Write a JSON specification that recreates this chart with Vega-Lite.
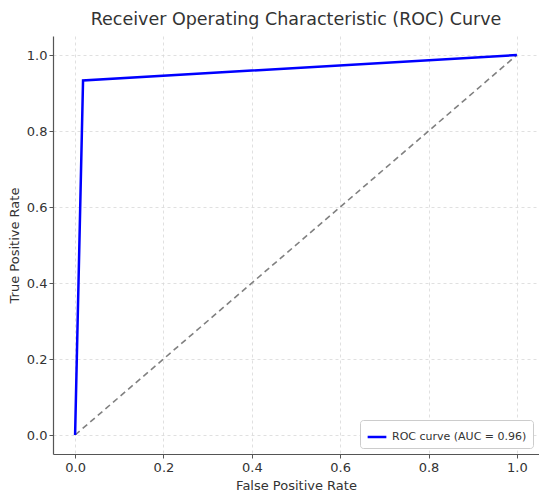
{
  "$schema": "https://vega.github.io/schema/vega-lite/v6.json",
  "autosize": "none",
  "width": 486,
  "height": 418,
  "padding": {"left": 53, "top": 36, "right": 0, "bottom": 39},
  "background": "white",
  "title": {"text": "Receiver Operating Characteristic (ROC) Curve", "font": "DejaVu Sans", "fontSize": 17.5, "fontWeight": "normal", "color": "#333333", "offset": 8},
  "config": {
    "view": {"stroke": null},
    "font": "DejaVu Sans",
    "axis": {
      "labelFont": "DejaVu Sans", "labelFontSize": 13, "labelColor": "#333333",
      "titleFont": "DejaVu Sans", "titleFontSize": 13, "titleFontWeight": "normal", "titleColor": "#333333",
      "domainColor": "#555555", "domainWidth": 1.2, "tickColor": "#555555", "tickSize": 4,
      "gridColor": "#d8d8d8", "gridDash": [3, 3], "gridWidth": 0.8
    }
  },
  "datasets": {
    "roc": [
      {"fpr": 0.0, "tpr": 0.0, "series": "ROC curve (AUC = 0.96)"},
      {"fpr": 0.018, "tpr": 0.933, "series": "ROC curve (AUC = 0.96)"},
      {"fpr": 1.0, "tpr": 1.0, "series": "ROC curve (AUC = 0.96)"}
    ],
    "diag": [
      {"fpr": 0.0, "tpr": 0.0},
      {"fpr": 1.0, "tpr": 1.0}
    ]
  },
  "layer": [
    {
      "data": {"name": "diag"},
      "mark": {"type": "line", "color": "#808080", "strokeDash": [6, 4], "strokeWidth": 1.6, "clip": true},
      "encoding": {
        "x": {"field": "fpr", "type": "quantitative", "scale": {"domain": [-0.05, 1.05], "nice": false, "zero": false},
              "axis": {"values": [0, 0.2, 0.4, 0.6, 0.8, 1.0], "format": ".1f", "title": "False Positive Rate", "titlePadding": 5, "labelPadding": 3}},
        "y": {"field": "tpr", "type": "quantitative", "scale": {"domain": [-0.05, 1.05], "nice": false, "zero": false},
              "axis": {"values": [0, 0.2, 0.4, 0.6, 0.8, 1.0], "format": ".1f", "title": "True Positive Rate", "titlePadding": 5, "labelPadding": 2}}
      }
    },
    {
      "data": {"name": "roc"},
      "mark": {"type": "line", "strokeWidth": 2.5, "clip": true},
      "encoding": {
        "x": {"field": "fpr", "type": "quantitative"},
        "y": {"field": "tpr", "type": "quantitative"},
        "color": {"field": "series", "type": "nominal", "scale": {"range": ["#0000ff"]},
                  "legend": {"title": null, "orient": "bottom-right", "offset": 6, "symbolType": "stroke", "symbolStrokeWidth": 2.5, "symbolSize": 350,
                             "labelFont": "DejaVu Sans", "labelFontSize": 11, "labelColor": "#333333",
                             "strokeColor": "#cccccc", "fillColor": "white", "padding": 6, "cornerRadius": 3}}
      }
    }
  ]
}
